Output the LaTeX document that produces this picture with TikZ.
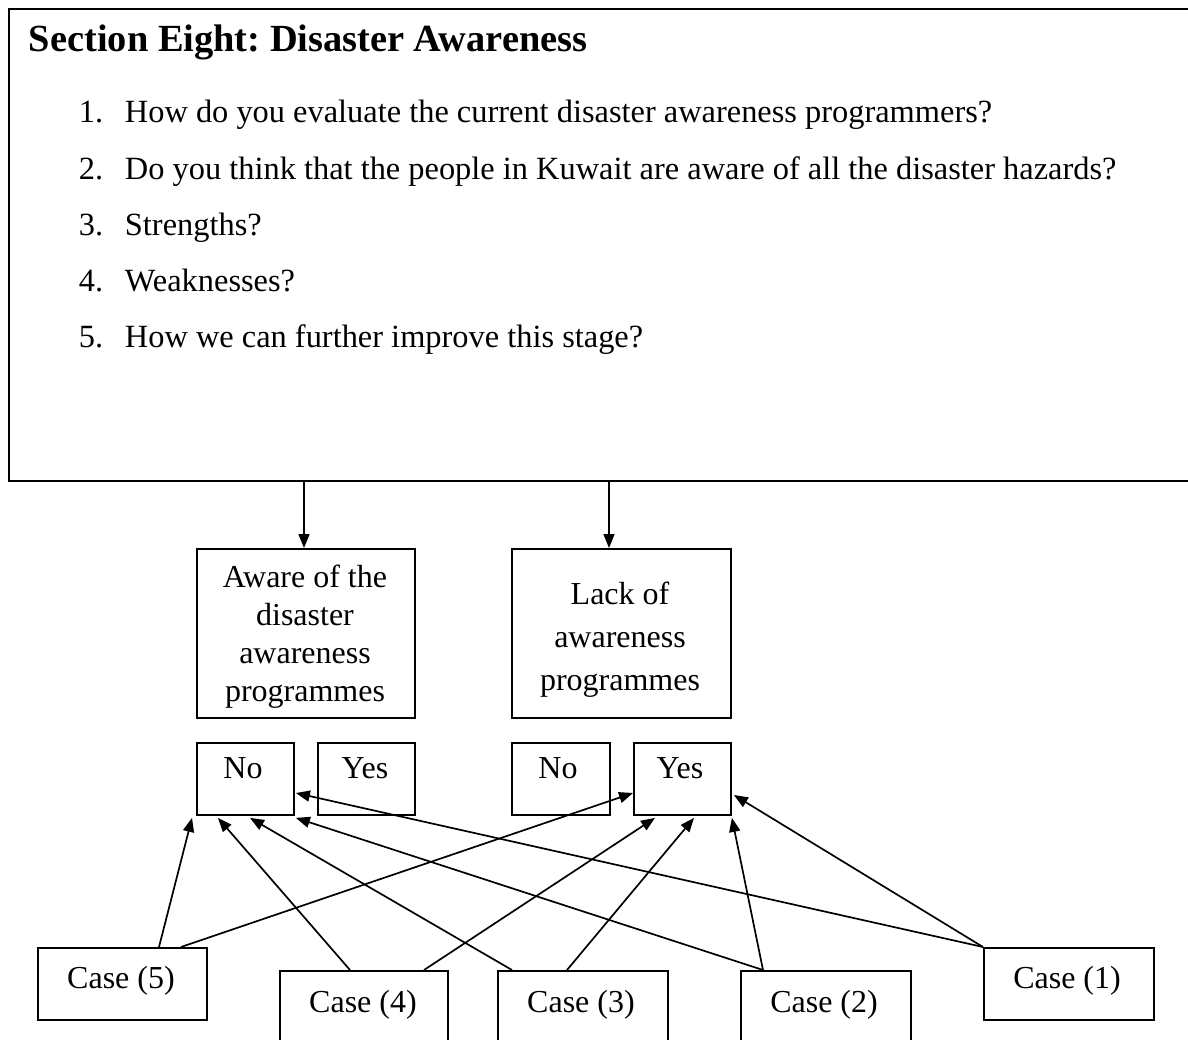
\documentclass[tikz,border=0pt]{standalone}
\usepackage{fontspec}
\setmainfont{Liberation Serif}
\usetikzlibrary{arrows.meta,calc}
\frenchspacing

\begin{document}
\begin{tikzpicture}[x=1pt,y=-1pt,
  line width=1.9pt,
  frame/.style={draw, rectangle, inner sep=0pt, anchor=north west, fill=none},
  body/.style={font=\fontsize{32}{38}\selectfont, inner sep=0pt},
  item/.style={font=\fontsize{32.4}{38}\selectfont, inner sep=0pt, anchor=base west},
  arr/.style={-{Triangle[length=14pt,width=11pt]}, line width=1.7pt}
]
\useasboundingbox (0,0) rectangle (1188,1040);
\clip (0,0) rectangle (1188,1040);

% question frame (runs past the right edge)
\node[frame, minimum width=1200pt, minimum height=472pt] (sec) at (8,8) {};
\node[font=\fontsize{38.4}{44}\selectfont\bfseries, inner sep=0pt, anchor=base west] (title) at (28,52) {Section Eight: Disaster Awareness};

\node[item] (n1) at (78,123) {1.};
\node[item] (q1) at (124,123) {How do you evaluate the current disaster awareness programmers?};
\node[item] (n2) at (78,180) {2.};
\node[item] (q2) at (124,180) {Do you think that the people in Kuwait are aware of all the disaster hazards?};
\node[item] (n3) at (78,236) {3.};
\node[item] (q3) at (124,236) {Strengths?};
\node[item] (n4) at (78,292) {4.};
\node[item] (q4) at (124,292) {Weaknesses?};
\node[item] (n5) at (78,348) {5.};
\node[item] (q5) at (124,348) {How we can further improve this stage?};

% outcome boxes
\node[frame, minimum width=218pt, minimum height=169pt] (aware) at (196,548) {};
\node[body, align=center, font=\fontsize{32}{38}\selectfont] (awaret) at (305,637) {Aware of the\\disaster\\awareness\\programmes};
\node[frame, minimum width=219pt, minimum height=169pt] (lack) at (511,548) {};
\node[body, align=center, font=\fontsize{32}{43}\selectfont] (lackt) at (620,640) {Lack of\\awareness\\programmes};

\coordinate (s1) at (304,480);
\coordinate (s2) at (609,480);
\draw[arr] (s1) -- (s1 |- aware.north);
\draw[arr] (s2) -- (s2 |- lack.north);

% answer boxes
\node[frame, minimum width=97pt, minimum height=72pt] (no1) at (196,742) {};
\node[frame, minimum width=97pt, minimum height=72pt] (yes1) at (317,742) {};
\node[frame, minimum width=98pt, minimum height=72pt] (no2) at (511,742) {};
\node[frame, minimum width=97pt, minimum height=72pt] (yes2) at (633,742) {};
\node[body, anchor=base] (no1t) at (243,778) {No};
\node[body, anchor=base] (yes1t) at (365,778) {Yes};
\node[body, anchor=base] (no2t) at (558,778) {No};
\node[body, anchor=base] (yes2t) at (680,778) {Yes};

% case boxes
\node[frame, minimum width=169pt, minimum height=72pt] (case5) at (37,947) {};
\node[frame, minimum width=168pt, minimum height=90pt] (case4) at (279,970) {};
\node[frame, minimum width=170pt, minimum height=90pt] (case3) at (497,970) {};
\node[frame, minimum width=170pt, minimum height=90pt] (case2) at (740,970) {};
\node[frame, minimum width=170pt, minimum height=72pt] (case1) at (983,947) {};
\node[body, anchor=base] (case5t) at (121,988) {Case (5)};
\node[body, anchor=base] (case4t) at (363,1012) {Case (4)};
\node[body, anchor=base] (case3t) at (581,1012) {Case (3)};
\node[body, anchor=base] (case2t) at (824,1012) {Case (2)};
\node[body, anchor=base] (case1t) at (1067,988) {Case (1)};

% links from cases to answers
\draw[arr] ($(case5.north west)+(122,0)$) -- ($(no1.south west)+(-4,2)$);
\draw[arr] ($(case5.north west)+(144,0)$) -- ($(yes2.north west)+(0,51)$);
\draw[arr] ($(case4.north west)+(71,0)$) -- ($(no1.south west)+(22,2)$);
\draw[arr] ($(case4.north west)+(145,0)$) -- ($(yes2.south west)+(22,2)$);
\draw[arr] ($(case3.north west)+(15,0)$) -- ($(no1.south west)+(54,2)$);
\draw[arr] ($(case3.north west)+(70,0)$) -- ($(yes2.south west)+(61,2)$);
\draw[arr] ($(case2.north west)+(23,0)$) -- ($(no1.south east)+(1,2)$);
\draw[arr] ($(case2.north west)+(23,0)$) -- ($(yes2.south east)+(0,2)$);
\draw[arr] (case1.north west) -- ($(no1.north east)+(1,51)$);
\draw[arr] (case1.north west) -- ($(yes2.north east)+(2,53)$);
\end{tikzpicture}
\end{document}
